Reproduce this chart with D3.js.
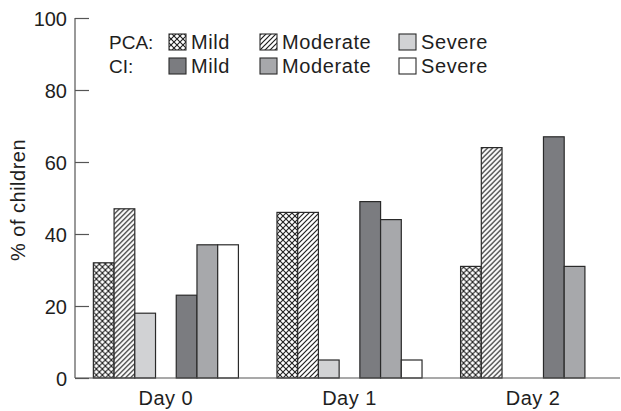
<!DOCTYPE html>
<html>
<head>
<meta charset="utf-8">
<script src="https://cdn.jsdelivr.net/npm/d3@7"></script>
<style>
  body { margin: 0; background: #fff; }
  text { font-family: "Liberation Sans", Arial, sans-serif; fill: #1e1e1e; }
</style>
</head>
<body>
<div id="chart"></div>
<script>
// Data (% of children)
const days = ["Day 0", "Day 1", "Day 2"];
const pcaMild = [32, 46, 31];
const pcaModerate = [47, 46, 64];
const pcaSevere = [18, 5, 0];
const ciMild = [23, 49, 67];
const ciModerate = [37, 44, 31];
const ciSevere = [37, 5, 0];
const yTicks = [0, 20, 40, 60, 80, 100];

// series in drawing order; "gap" is the empty slot between PCA and CI
const series = [
    { key: "pcaMild", group: "PCA", label: "Mild", values: pcaMild, fill: "url(#cross)" },
    { key: "pcaModerate", group: "PCA", label: "Moderate", values: pcaModerate, fill: "url(#hatch)" },
    { key: "pcaSevere", group: "PCA", label: "Severe", values: pcaSevere, fill: "#d1d2d4" },
    { key: "ciMild", group: "CI", label: "Mild", values: ciMild, fill: "#7b7c80" },
    { key: "ciModerate", group: "CI", label: "Moderate", values: ciModerate, fill: "#a7a8ab" },
    { key: "ciSevere", group: "CI", label: "Severe", values: ciSevere, fill: "#ffffff" }
];
const slots = ["pcaMild", "pcaModerate", "pcaSevere", "gap", "ciMild", "ciModerate", "ciSevere"];

function init() {
    const width = 621;
    const height = 411;

    const svg = d3.select("#chart")
        .append("svg")
        .attr("width", width)
        .attr("height", height);

    // fill patterns
    const defs = svg.append("defs");
    const cross = defs.append("pattern")
        .attr("id", "cross")
        .attr("patternUnits", "userSpaceOnUse")
        .attr("width", 6).attr("height", 6);
    cross.append("rect").attr("width", 6).attr("height", 6).attr("fill", "#fff");
    cross.append("path").attr("d", "M0,0 L6,6 M0,6 L6,0")
        .attr("stroke", "#1e1e1e").attr("stroke-width", 1.1);

    const hatch = defs.append("pattern")
        .attr("id", "hatch")
        .attr("patternUnits", "userSpaceOnUse")
        .attr("width", 5).attr("height", 5);
    hatch.append("rect").attr("width", 5).attr("height", 5).attr("fill", "#fff");
    hatch.append("path").attr("d", "M-1,1 L1,-1 M0,5 L5,0 M4,6 L6,4")
        .attr("stroke", "#1e1e1e").attr("stroke-width", 1.2);

    // scales
    const x0 = d3.scaleBand()
        .domain(days)
        .range([75, 624])
        .paddingInner(0.21)
        .paddingOuter(0.1);

    const x1 = d3.scaleBand()
        .domain(slots)
        .range([0, x0.bandwidth()]);

    const y = d3.scaleLinear()
        .domain([0, 100])
        .range([378, 18]);

    // bars
    const groups = svg.selectAll("g.day")
        .data(days)
        .enter().append("g")
        .attr("class", "day")
        .attr("transform", d => `translate(${x0(d)},0)`);

    groups.selectAll("rect")
        .data((d, i) => series.map(s => ({ s: s, v: s.values[i] })).filter(e => e.v > 0))
        .enter().append("rect")
        .attr("x", e => x1(e.s.key))
        .attr("y", e => y(e.v))
        .attr("width", x1.bandwidth())
        .attr("height", e => y(0) - y(e.v))
        .attr("fill", e => e.s.fill)
        .attr("stroke", "#2a2a2a")
        .attr("stroke-width", 1.2);

    // y axis (ticks point inward)
    const yAxis = svg.append("g")
        .attr("transform", "translate(75,0)")
        .call(d3.axisRight(y).tickValues(yTicks).tickSize(14).tickFormat(d3.format("d")));
    yAxis.select(".domain").attr("stroke", "#555").attr("stroke-width", 1.2)
        .attr("d", `M0,${y(100)}V${y(0)}`);
    yAxis.selectAll(".tick line").attr("stroke", "#555").attr("stroke-width", 1.2);
    yAxis.selectAll(".tick text")
        .attr("x", -8)
        .attr("dy", "0.36em")
        .attr("text-anchor", "end")
        .style("font-size", "20px")
        .style("font-family", "Liberation Sans, Arial, sans-serif")
        .attr("fill", "#1e1e1e");

    // x axis line and day labels
    svg.append("line")
        .attr("x1", 75).attr("x2", 620)
        .attr("y1", y(0)).attr("y2", y(0))
        .attr("stroke", "#555").attr("stroke-width", 1.2);

    svg.selectAll("text.day")
        .data(days)
        .enter().append("text")
        .attr("class", "day")
        .attr("x", d => x0(d) + x0.bandwidth() / 2)
        .attr("y", 405)
        .attr("text-anchor", "middle")
        .style("font-size", "20px")
        .style("letter-spacing", "0.5px")
        .text(d => d);

    // y axis title
    svg.append("text")
        .attr("transform", `translate(25,${(y(0) + y(100)) / 2 + 2}) rotate(-90)`)
        .attr("text-anchor", "middle")
        .style("font-size", "20px")
        .style("letter-spacing", "0.5px")
        .text("% of children");

    // legend
    const legendCols = [169, 260, 399];
    const legendRows = { PCA: 48.5, CI: 72.5 };
    const legend = svg.append("g").attr("class", "legend");

    Object.keys(legendRows).forEach(g => {
        legend.append("text")
            .attr("x", 109)
            .attr("y", legendRows[g])
            .style("font-size", "19px")
            .text(g + ":");
    });

    ["PCA", "CI"].forEach(g => {
        series.filter(s => s.group === g).forEach((s, i) => {
            legend.append("rect")
                .attr("x", legendCols[i])
                .attr("y", legendRows[g] - 14.5)
                .attr("width", 17)
                .attr("height", 16)
                .attr("fill", s.fill)
                .attr("stroke", "#2a2a2a")
                .attr("stroke-width", 1.1);
            legend.append("text")
                .attr("x", legendCols[i] + 22)
                .attr("y", legendRows[g])
                .style("font-size", "20px")
                .style("letter-spacing", "0.6px")
                .text(s.label);
        });
    });
}
window.onload = init;
</script>
</body>
</html>
